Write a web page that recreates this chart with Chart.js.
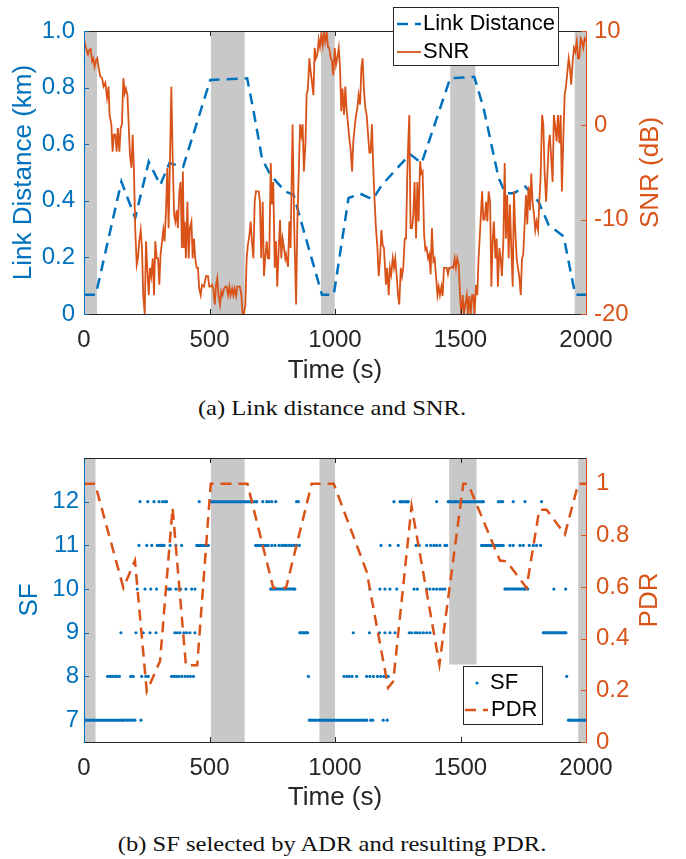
<!DOCTYPE html>
<html lang="en">
<head>
  <meta charset="UTF-8">
  <title>Link distance, SNR, SF and PDR</title>
  <script src="https://cdn.jsdelivr.net/npm/chart.js"></script>
  <style>
    body { margin: 0; background: #fff; }
    .page { position: relative; width: 686px; height: 859px; overflow: hidden; }
    canvas { position: absolute; left: 0; }
    #chartA { top: 0; }
    #chartB { top: 420px; }
    .caption {
      position: absolute; left: -11px; width: 686px; text-align: center;
      font-family: "Liberation Serif", "Times New Roman", serif; font-size: 21px;
      line-height: 24px; color: #111; transform: scaleX(1.17);
    }
  </style>
</head>
<body>
  <div class="page">
    <canvas id="chartA" width="686" height="390"></canvas>
    <div class="caption" style="top:396px">(a) Link distance and SNR.</div>
    <canvas id="chartB" width="686" height="400"></canvas>
    <div class="caption" style="top:832px">(b) SF selected by ADR and resulting PDR.</div>
  </div>

  <script>
    // ---- data ----
    const timeTicks = [0, 500, 1000, 1500, 2000];

    // (a) link distance (km), dashed
    const distT = [0, 47, 149, 204, 258, 304, 340, 395, 503, 650, 676, 709, 742, 802, 835, 948, 995,
      1054, 1101, 1150, 1187, 1299, 1345, 1459, 1555, 1592, 1652, 1679, 1712, 1758, 1811, 1851, 1911, 1957, 2000];
    const distV = [0.068, 0.068, 0.468, 0.339, 0.538, 0.456, 0.533, 0.52, 0.827, 0.833, 0.715, 0.55, 0.492, 0.433, 0.421, 0.068, 0.068,
      0.41, 0.425, 0.405, 0.456, 0.565, 0.533, 0.833, 0.838, 0.727, 0.48, 0.427, 0.427, 0.45, 0.397, 0.315, 0.274, 0.068, 0.068];
    const distTicks = [0, 0.2, 0.4, 0.6, 0.8, 1];
    const distTickLabels = ['0', '0.2', '0.4', '0.6', '0.8', '1.0'];

    // (a) SNR (dB)
    const snrT = [0, 8, 16, 21, 27, 32, 37, 42, 48, 53, 58, 65, 72, 78, 85, 92, 98, 102, 109, 114, 119, 125, 130, 135, 141, 146,
      151, 157, 162, 167, 173, 178, 183, 189, 194, 199, 204, 210, 215, 220, 226, 231, 236, 242, 247, 252, 258, 263, 268, 274, 279,
      284, 290, 295, 300, 305, 311, 316, 321, 327, 332, 337, 343, 348, 353, 359, 364, 369, 374, 380, 385, 390, 394, 398, 401, 406,
      412, 417, 422, 428, 433, 438, 443, 449, 454, 459, 465, 470, 478, 486, 494, 499, 505, 510, 515, 521, 526, 531, 536, 542, 547,
      552, 558, 563, 568, 574, 579, 584, 590, 595, 600, 606, 611, 616, 621, 627, 632, 637, 643, 648, 653, 659, 664, 669, 675, 680,
      685, 691, 696, 701, 706, 712, 717, 722, 728, 733, 738, 744, 749, 754, 760, 765, 770, 776, 781, 786, 791, 797, 802, 805, 813,
      818, 823, 831, 837, 845, 850, 855, 861, 866, 871, 876, 882, 887, 892, 898, 903, 908, 914, 919, 924, 930, 935, 940, 945, 951,
      956, 961, 967, 972, 977, 983, 988, 993, 999, 1004, 1009, 1015, 1020, 1025, 1030, 1036, 1041, 1046, 1052, 1057, 1062, 1068,
      1073, 1078, 1084, 1089, 1094, 1100, 1105, 1110, 1115, 1121, 1126, 1131, 1137, 1142, 1147, 1153, 1158, 1163, 1169, 1174, 1179,
      1185, 1190, 1195, 1203, 1208, 1214, 1219, 1224, 1230, 1235, 1240, 1246, 1251, 1256, 1262, 1267, 1272, 1278, 1283, 1288, 1293,
      1296, 1301, 1307, 1312, 1317, 1323, 1328, 1333, 1339, 1344, 1349, 1355, 1360, 1365, 1371, 1376, 1381, 1386, 1392, 1397, 1402,
      1408, 1413, 1418, 1424, 1429, 1434, 1440, 1445, 1450, 1455, 1461, 1466, 1471, 1477, 1482, 1487, 1493, 1498, 1503, 1509, 1514,
      1519, 1525, 1530, 1535, 1541, 1546, 1551, 1556, 1562, 1567, 1572, 1580, 1586, 1591, 1596, 1602, 1607, 1612, 1618, 1623, 1628,
      1633, 1639, 1644, 1649, 1655, 1660, 1665, 1671, 1676, 1681, 1686, 1692, 1697, 1702, 1708, 1713, 1718, 1724, 1729, 1734, 1740,
      1745, 1750, 1756, 1761, 1766, 1771, 1777, 1782, 1787, 1793, 1798, 1803, 1809, 1814, 1819, 1825, 1830, 1835, 1841, 1846, 1851,
      1856, 1862, 1867, 1872, 1878, 1883, 1888, 1894, 1899, 1904, 1910, 1915, 1920, 1926, 1931, 1936, 1941, 1947, 1952, 1957, 1963,
      1968, 1973, 1979, 1984, 1989, 1995, 2000];
    const snrV = [9.1, 8.2, 7.5, 8.0, 8.1, 6.8, 7.1, 6.2, 6.9, 7.1, 6.1, 5.2, 5.0, 4.1, 4.5, 2.9, 4.1, 1.1, 0.1, -2.8, -1.0, -1.0, -2.8, -0.3, -2.8, -0.3,
      0.1, 5.0, 3.4, 3.9, 3.2, 0.1, -3.1, -4.5, -1.0, -4.9, -10.9, -14.8, -14.1, -12.3, -11.1, -13.0, -18.0, -20.0, -12.3, -15.1, -18.0, -15.1, -16.0, -14.1, -18.0,
      -12.3, -14.1, -14.1, -16.9, -13.7, -12.3, -11.1, -12.3, -8.8, -4.5, -10.9, -3.1, 4.1, -3.1, -9.5, -10.2, -9.0, -10.9, -7.0, -6.0, -13.0, -4.9, -13.0, -10.2, -14.1,
      -8.1, -14.1, -10.9, -10.2, -14.1, -12.0, -14.1, -15.1, -15.1, -17.3, -18.0, -16.9, -17.1, -16.0, -16.0, -17.1, -17.1, -16.9, -17.3, -19.0, -16.9, -16.2, -18.0, -19.0, -17.6,
      -18.0, -17.3, -17.1, -17.1, -18.0, -17.1, -18.0, -17.3, -18.0, -17.3, -18.1, -17.1, -17.1, -17.1, -18.0, -20.0, -20.0, -19.0, -14.1, -12.7, -11.6, -10.2, -12.3, -14.1, -8.1,
      -7.0, -7.0, -7.0, -8.1, -14.1, -8.1, -16.0, -14.1, -12.3, -14.1, -14.1, -4.0, -8.4, -6.0, -15.1, -12.3, -17.1, -13.0, -10.0, -14.1, -12.0, -13.0, -14.1, -13.7, -15.0,
      -10.2, -13.0, 0.1, -10.2, -19.0, -10.2, -5.6, 0.1, -1.0, 0.1, -4.9, -2.1, 3.2, 3.9, 7.1, 5.7, 4.6, 3.2, 8.2, 7.1, 7.5, 9.1, 8.3, 9.6, 8.5,
      10.0, 8.9, 9.8, 8.3, 8.2, 7.1, 6.8, 5.3, 8.2, 6.4, 7.1, 8.2, 6.1, 1.5, 3.9, 1.1, 4.1, 1.8, 0.1, -1.4, -2.4, -4.9,
      -1.7, -0.3, 1.1, 1.8, 3.2, 2.2, 6.1, 7.1, 3.9, 1.8, 1.1, -0.7, -2.9, -2.9, 0.1, -4.9, -8.1, -10.9, -13.0, -16.0, -14.4,
      -11.1, -12.7, -13.0, -16.9, -15.1, -18.0, -15.1, -15.8, -14.1, -15.1, -14.1, -16.0, -18.0, -19.0, -15.1, -16.0, -15.1, -12.0, -12.0, -5.3, -1.0,
      1.1, -10.9, -10.9, -9.5, -6.0, -12.0, -6.0, -10.2, -3.8, -5.1, -4.9, -11.6, -13.2, -13.0, -14.1, -13.7, -15.8, -10.9, -14.4, -14.1, -15.8,
      -18.0, -17.1, -18.0, -17.1, -18.1, -15.1, -15.1, -15.1, -15.8, -15.1, -15.1, -15.0, -15.1, -14.1, -15.1, -14.1, -14.8, -18.0, -20.0, -18.0, -20.0,
      -19.0, -18.0, -20.0, -18.1, -20.0, -18.0, -18.0, -20.0, -16.9, -18.0, -14.1, -10.2, -7.0, -10.0, -10.0, -8.1, -10.2, -7.0, -8.1, -17.1, -12.3,
      -10.2, -14.1, -12.0, -17.1, -13.0, -14.1, -16.0, -12.0, -4.0, -12.0, -7.4, -14.1, -8.4, -12.7, -17.1, -7.0, -11.1, -14.1, -15.1, -16.0, -18.0,
      -14.1, -13.7, -10.2, -7.4, -10.5, -6.5, -9.0, -5.1, -8.1, -9.5, -11.1, -10.2, -11.1, -8.1, -5.6, 1.1, 0.1, -4.9, -8.1, -5.3, -2.1,
      -1.0, -3.8, -6.0, 1.1, -0.3, -1.7, 1.1, -1.9, 1.1, -7.0, -1.0, 3.2, 4.1, 5.7, 7.1, 6.1, 4.3, 6.8, 8.2, 7.8, 8.9,
      7.1, 7.1, 9.2, 8.9, 8.2, 9.2, 8.9];
    const snrTicks = [-20, -10, 0, 10];

    // shaded intervals, panel (a)
    const bandStartA = [0, 506, 944, 1459, 1955];
    const bandEndA = [52, 640, 999, 1559, 2000];

    // (b) SF chosen by ADR: a number is one packet, a pair is an unbroken run
    const sf7 = [[0, 160], 170, 178, 186, 194, 203, 227, [898, 1126], 1142, 1150, 1192, 1208, [1930, 2000]];
    const sf8 = [94, 104, 113, 122, 131, 141, 186, 196, 230, 246, 256, 349, 358, 368, 377, 389, 402, 413, 424, 436, 894,
      1036, 1047, 1057, 1068, 1086, 1126, 1139, 1153, 1169, 1182, 1195, 1212, 1923];
    const sf9 = [147, 207, 236, 263, 287, 362, 372, 382, 398, 409, 422, 442, [860, 891], 1073, 1137, 1177, 1199, 1219, 1239,
      1296, 1305, 1319, 1328, 1339, 1352, 1365, 1378, [1830, 1920]];
    const sf10 = [212, 243, 266, 289, 336, 340, 345, 366, 378, 385, 406, 429, 442, [744, 840], 1139, 1179, 1199, 1219, 1246,
      1315, 1328, 1365, 1378, 1392, 1405, 1418, 1428, 1438, [1677, 1757], 1768, 1872, 1919];
    const sf11 = [219, 250, 270, 292, 299, 306, 313, 319, 343, 366, 389, [449, 495], [684, 734], 748, 761, 777, 788, 798, 807,
      818, 827, 838, 847, 858, 1183, 1219, 1252, 1323, 1336, 1365, 1381, 1394, 1405, 1418, 1438, 1445, [1584, 1670], 1697,
      1710, 1737, 1750, 1774, 1790, 1803, 1819];
    const sf12 = [223, 254, 279, 299, 313, 323, 329, 459, [506, 688], 712, 728, 737, 748, 764, 847, 854, 1235, [1259, 1292],
      1405, [1451, 1591], 1651, 1660, 1668, 1710, 1757, 1823];
    const sfTicks = [7, 8, 9, 10, 11, 12];

    // (b) PDR, dashed
    const pdrT = [0, 44, 157, 203, 250, 303, 353, 406, 451, 505, 651, 754, 805, 907, 995, 1126, 1212, 1232, 1305, 1416,
      1511, 1530, 1657, 1684, 1763, 1814, 1843, 1916, 1969, 2000];
    const pdrV = [1, 1, 0.597, 0.703, 0.196, 0.313, 0.907, 0.297, 0.297, 1, 1, 0.597, 0.597, 1, 1, 0.66, 0.21, 0.235, 0.913, 0.3,
      1, 1, 0.703, 0.7, 0.597, 0.9, 0.9, 0.804, 1, 1];
    const pdrTicks = [0, 0.2, 0.4, 0.6, 0.8, 1];
    const pdrTickLabels = ['0', '0.2', '0.4', '0.6', '0.8', '1'];

    // shaded intervals, panel (b); the fourth stops at PDR 0.3
    const bandStartB = [0, 506, 938, 1455, 1969];
    const bandEndB = [46, 640, 1000, 1564, 2000];
    const bandFloorB = [0, 0, 0, 0.3, 0];

    // ---- styling ----
    const FONT = '"Liberation Sans", Arial, Helvetica, sans-serif';
    const blue = '#0072BD', orange = '#D95319', axisGray = '#262626', bandGray = '#c8c8c8';
    const tickFont = { family: FONT, size: 24 };
    const titleFont = { family: FONT, size: 26 };

    function toXY(ts, vs) { return ts.map((t, i) => ({ x: t, y: vs[i] })); }

    function sfPoints(level, marks) {
      const pts = [];
      marks.forEach(m => {
        if (Array.isArray(m)) pts.push({ x: m[0], y: level }, { x: m[1], y: level }, { x: m[1], y: null });
        else pts.push({ x: m, y: level }, { x: m, y: null });
      });
      return pts;
    }

    function setTicks(values) { return scale => { scale.ticks = values.map(v => ({ value: v })); }; }

    function xScale(height, labelPad, titlePad) {
      return {
        type: 'linear', min: 0, max: 2000,
        afterBuildTicks: setTicks(timeTicks),
        afterFit: s => { s.height = height; },
        grid: { display: false, drawTicks: false },
        border: { color: axisGray, width: 1, z: 1 },
        ticks: { color: axisGray, font: tickFont, padding: labelPad, maxRotation: 0, autoSkip: false,
          callback: v => String(v) },
        title: { display: true, text: 'Time (s)', color: axisGray, font: titleFont, padding: { top: 0, bottom: titlePad } }
      };
    }

    function yScale(pos, min, max, ticks, labels, color, pad, width, title, titlePad) {
      const s = {
        type: 'linear', position: pos, min, max,
        afterBuildTicks: setTicks(ticks),
        afterFit: sc => { sc.width = width; },
        grid: { display: false, drawTicks: false },
        border: { color, width: 1, z: 1 },
        ticks: { color, font: tickFont, padding: pad, callback: (v, i) => labels[i] }
      };
      if (title) s.title = { display: true, text: title, color, font: titleFont, padding: { top: titlePad, bottom: 0 } };
      return s;
    }

    // shaded bands behind the data
    function bandsPlugin(starts, ends, floors) {
      return {
        id: 'bands',
        beforeDatasetsDraw(chart) {
          const { ctx, chartArea, scales } = chart;
          ctx.save();
          ctx.fillStyle = bandGray;
          starts.forEach((s, i) => {
            const x0 = scales.x.getPixelForValue(s);
            const x1 = scales.x.getPixelForValue(ends[i]);
            const yb = floors ? scales.yR.getPixelForValue(floors[i]) : chartArea.bottom;
            ctx.fillRect(x0, chartArea.top, x1 - x0, yb - chartArea.top);
          });
          ctx.restore();
        }
      };
    }

    // box top, inward ticks, right axis title, legend
    function framePlugin(rightTitle, rightTitleX, legend) {
      return {
        id: 'frame',
        afterDraw(chart) {
          const { ctx, chartArea: a, scales } = chart;
          ctx.save();
          ctx.lineWidth = 1;
          ctx.strokeStyle = axisGray;
          ctx.beginPath();
          ctx.moveTo(a.left, Math.round(a.top) + 0.5);
          ctx.lineTo(a.right, Math.round(a.top) + 0.5);
          timeTicks.slice(1, -1).forEach(v => {
            const x = Math.round(scales.x.getPixelForValue(v)) + 0.5;
            ctx.moveTo(x, a.bottom); ctx.lineTo(x, a.bottom - 5);
            ctx.moveTo(x, a.top); ctx.lineTo(x, a.top + 5);
          });
          ctx.stroke();

          ctx.strokeStyle = blue;
          ctx.beginPath();
          scales.yL.ticks.forEach(t => {
            const y = Math.round(scales.yL.getPixelForValue(t.value)) + 0.5;
            ctx.moveTo(a.left, y); ctx.lineTo(a.left + 5, y);
          });
          ctx.stroke();
          ctx.strokeStyle = orange;
          ctx.beginPath();
          scales.yR.ticks.forEach(t => {
            const y = Math.round(scales.yR.getPixelForValue(t.value)) + 0.5;
            ctx.moveTo(a.right, y); ctx.lineTo(a.right - 5, y);
          });
          ctx.stroke();

          // right axis title reads bottom to top
          ctx.fillStyle = orange;
          ctx.font = titleFont.size + 'px ' + FONT;
          ctx.textAlign = 'center';
          ctx.textBaseline = 'middle';
          ctx.translate(rightTitleX, (a.top + a.bottom) / 2);
          ctx.rotate(-Math.PI / 2);
          ctx.fillText(rightTitle, 0, 0);
          ctx.restore();

          legend(ctx);
        }
      };
    }

    function legendBox(ctx, x, y, w, h) {
      ctx.fillStyle = '#fff';
      ctx.fillRect(x, y, w, h);
      ctx.strokeStyle = axisGray;
      ctx.lineWidth = 1;
      ctx.strokeRect(x + 0.5, y + 0.5, w, h);
      ctx.font = '22px ' + FONT;
      ctx.fillStyle = '#000';
      ctx.textAlign = 'left';
      ctx.textBaseline = 'middle';
    }

    // ---- panel (a) ----
    new Chart(document.getElementById('chartA'), {
      type: 'line',
      data: {
        datasets: [
          { label: 'SNR', data: toXY(snrT, snrV), yAxisID: 'yR', borderColor: orange, borderWidth: 1.8,
            pointRadius: 0, order: 0 },
          { label: 'Link Distance', data: toXY(distT, distV), yAxisID: 'yL', borderColor: blue, borderWidth: 2.5,
            borderDash: [11, 7], pointRadius: 0, order: 1 }
        ]
      },
      options: {
        responsive: false, animation: false, events: [],
        layout: { padding: { top: 31, left: 0, right: 0, bottom: 0 } },
        scales: {
          x: xScale(76, 11.6, 3.4),
          yL: yScale('left', 0, 1, distTicks, distTickLabels, blue, 9, 84, 'Link Distance (km)', 8.4),
          yR: yScale('right', -20, 10, snrTicks, snrTicks.map(String), orange, 8, 100)
        },
        plugins: { legend: { display: false }, tooltip: { enabled: false } }
      },
      plugins: [
        bandsPlugin(bandStartA, bandEndA),
        framePlugin('SNR (dB)', 651, ctx => {
          ctx.save();
          legendBox(ctx, 393, 7, 165, 58);
          ctx.lineWidth = 2.5;
          ctx.strokeStyle = blue;
          ctx.setLineDash([11, 7]);
          ctx.beginPath(); ctx.moveTo(397, 24); ctx.lineTo(421, 24); ctx.stroke();
          ctx.setLineDash([]);
          ctx.lineWidth = 1.8;
          ctx.strokeStyle = orange;
          ctx.beginPath(); ctx.moveTo(397, 52); ctx.lineTo(421, 52); ctx.stroke();
          ctx.fillText('Link Distance', 423, 24);
          ctx.fillText('SNR', 423, 52);
          ctx.restore();
        })
      ]
    });

    // ---- panel (b) ----
    const sfData = [].concat(sfPoints(7, sf7), sfPoints(8, sf8), sfPoints(9, sf9),
      sfPoints(10, sf10), sfPoints(11, sf11), sfPoints(12, sf12));

    new Chart(document.getElementById('chartB'), {
      type: 'line',
      data: {
        datasets: [
          { label: 'PDR', data: toXY(pdrT, pdrV), yAxisID: 'yR', borderColor: orange, borderWidth: 2.5,
            borderDash: [11, 7], pointRadius: 0, order: 0 },
          { label: 'SF', data: sfData, yAxisID: 'yL', borderColor: blue, borderWidth: 3, spanGaps: false,
            pointRadius: 1.6, pointBorderWidth: 0, pointBackgroundColor: blue, order: 1 }
        ]
      },
      options: {
        responsive: false, animation: false, events: [],
        layout: { padding: { top: 38, left: 0, right: 0, bottom: 0 } },
        scales: {
          x: xScale(78, 11.6, 6.4),
          yL: yScale('left', 6.5, 13, sfTicks, sfTicks.map(String), blue, 5, 84, 'SF', 14.4),
          yR: yScale('right', 0, 1.1, pdrTicks, pdrTickLabels, orange, 10, 100)
        },
        plugins: { legend: { display: false }, tooltip: { enabled: false } }
      },
      plugins: [
        bandsPlugin(bandStartB, bandEndB, bandFloorB),
        framePlugin('PDR', 650, ctx => {
          ctx.save();
          legendBox(ctx, 463, 246, 79, 58);
          ctx.fillStyle = blue;
          ctx.beginPath(); ctx.arc(477, 263, 1.6, 0, Math.PI * 2); ctx.fill();
          ctx.lineWidth = 2.5;
          ctx.strokeStyle = orange;
          ctx.setLineDash([11, 7]);
          ctx.beginPath(); ctx.moveTo(465, 290); ctx.lineTo(488, 290); ctx.stroke();
          ctx.fillStyle = '#000';
          ctx.fillText('SF', 490, 263);
          ctx.fillText('PDR', 491, 290);
          ctx.restore();
        })
      ]
    });
  </script>
</body>
</html>
